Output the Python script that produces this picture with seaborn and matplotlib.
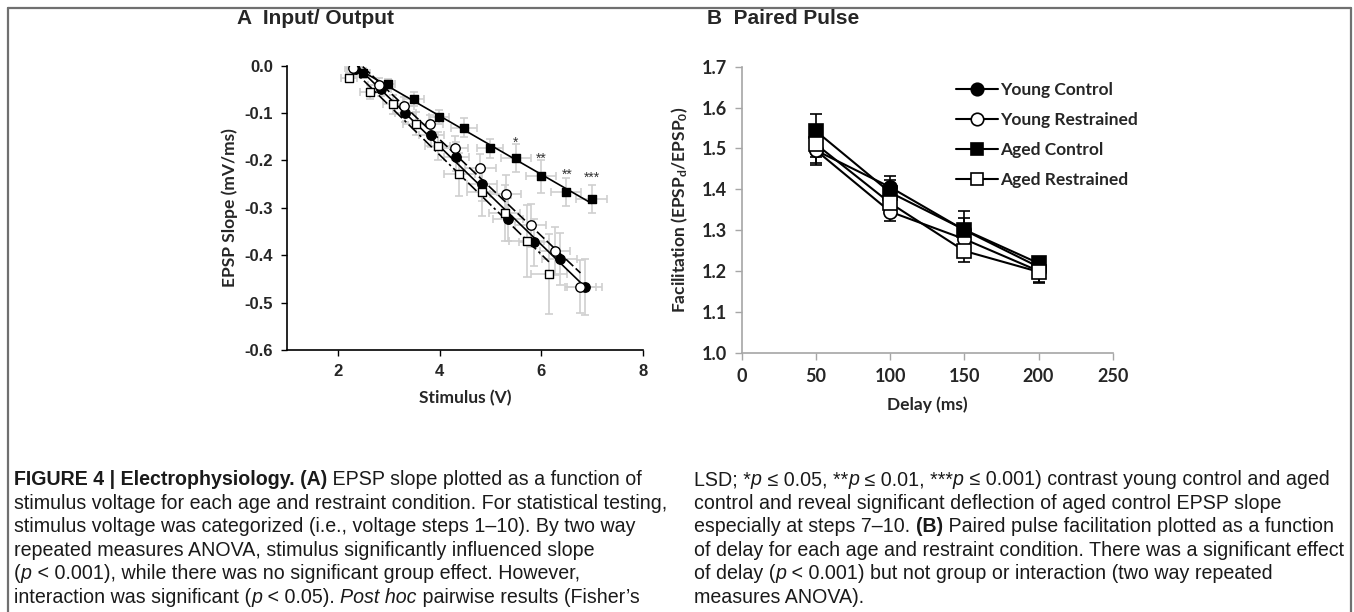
import numpy as np
import pandas as pd
import matplotlib
matplotlib.use("Agg")
import matplotlib.pyplot as plt
import seaborn as sns
from matplotlib.lines import Line2D
from matplotlib import font_manager

sns.set_style("white")

# ---- panel A: input / output (stimulus V vs EPSP slope) ----
yc_volt = [2.33, 2.85, 3.33, 3.84, 4.33, 4.83, 5.35, 5.86, 6.36, 6.85]
yc_slope = [-0.008, -0.050, -0.099, -0.147, -0.192, -0.250, -0.324, -0.373, -0.408, -0.467]
yc_xerr = [0.15, 0.2, 0.2, 0.25, 0.25, 0.3, 0.3, 0.3, 0.35, 0.35]
yc_yerr = [0.01, 0.015, 0.02, 0.025, 0.03, 0.035, 0.045, 0.05, 0.055, 0.06]

yr_volt = [2.30, 2.80, 3.30, 3.81, 4.30, 4.80, 5.30, 5.79, 6.27, 6.77]
yr_slope = [-0.005, -0.041, -0.086, -0.123, -0.173, -0.216, -0.271, -0.337, -0.391, -0.466]
yr_xerr = [0.15, 0.2, 0.2, 0.25, 0.25, 0.3, 0.3, 0.3, 0.3, 0.3]
yr_yerr = [0.01, 0.015, 0.02, 0.02, 0.025, 0.03, 0.04, 0.045, 0.05, 0.055]

ac_volt = [2.49, 2.98, 3.49, 3.99, 4.48, 4.99, 5.50, 5.99, 6.49, 6.99]
ac_slope = [-0.015, -0.039, -0.071, -0.109, -0.131, -0.174, -0.195, -0.233, -0.267, -0.281]
ac_xerr = [0.15, 0.15, 0.2, 0.2, 0.25, 0.25, 0.3, 0.3, 0.3, 0.3]
ac_yerr = [0.01, 0.01, 0.015, 0.015, 0.02, 0.02, 0.03, 0.035, 0.03, 0.03]

ar_volt = [2.22, 2.64, 3.09, 3.53, 3.96, 4.39, 4.83, 5.28, 5.71, 6.15]
ar_slope = [-0.025, -0.056, -0.081, -0.122, -0.169, -0.229, -0.267, -0.311, -0.370, -0.440]
ar_xerr = [0.15, 0.2, 0.2, 0.25, 0.25, 0.3, 0.3, 0.3, 0.35, 0.35]
ar_yerr = [0.01, 0.015, 0.02, 0.025, 0.03, 0.045, 0.05, 0.06, 0.075, 0.085]

sig_volt = [5.5, 6.0, 6.5, 7.0]
sig_slope = [-0.162, -0.197, -0.230, -0.237]
sig_marks = ["*", "**", "**", "***"]

# ---- panel B: paired pulse ----
delay = [50, 100, 150, 200]
pp_yc = [1.495, 1.405, 1.300, 1.210]
pp_yr = [1.495, 1.345, 1.278, 1.200]
pp_ac = [1.542, 1.392, 1.301, 1.219]
pp_ar = [1.510, 1.366, 1.249, 1.198]
pp_yc_err = [0.03, 0.027, 0.03, 0.02]
pp_yr_err = [0.035, 0.023, 0.03, 0.028]
pp_ac_err = [0.043, 0.03, 0.046, 0.016]
pp_ar_err = [0.03, 0.03, 0.028, 0.028]

groups = ["Young Control", "Young Restrained", "Aged Control", "Aged Restrained"]
marker_of = {"Young Control": ("o", "black"), "Young Restrained": ("o", "white"),
             "Aged Control": ("s", "black"), "Aged Restrained": ("s", "white")}

names = {f.name for f in font_manager.fontManager.ttflist}
narrow = "Liberation Sans Narrow" if "Liberation Sans Narrow" in names else "Liberation Sans"
excel = "Lato"

plt.rcParams["mathtext.fontset"] = "custom"
plt.rcParams["mathtext.rm"] = excel
plt.rcParams["mathtext.bf"] = excel + ":bold"
plt.rcParams["mathtext.it"] = excel + ":italic"

fig = plt.figure(figsize=(13.54, 6.12), dpi=100)
W, H = 1354, 612

# ---------------- panel A ----------------
axA = fig.add_axes([287 / W, 1 - 350 / H, (643 - 287) / W, (350 - 65.7) / H])
io = {
    "Young Control": (yc_volt, yc_slope, yc_xerr, yc_yerr, "-"),
    "Young Restrained": (yr_volt, yr_slope, yr_xerr, yr_yerr, (0, (6, 2))),
    "Aged Control": (ac_volt, ac_slope, ac_xerr, ac_yerr, "-"),
    "Aged Restrained": (ar_volt, ar_slope, ar_xerr, ar_yerr, (0, (7, 2, 1.5, 2))),
}
for g in groups:
    vx, vy, ex, ey, ls = io[g]
    axA.errorbar(vx, vy, xerr=ex, yerr=ey, fmt="none", ecolor="#cfcfcf",
                 elinewidth=1.2, capsize=3, capthick=1.2, zorder=1)
for g in groups:
    vx, vy, ex, ey, ls = io[g]
    sns.regplot(x=vx, y=vy, ax=axA, scatter=False, ci=None, truncate=True,
                color="black", line_kws={"lw": 1.2, "linestyle": ls, "zorder": 2})
for g in groups:
    vx, vy, ex, ey, ls = io[g]
    m, fc = marker_of[g]
    sns.scatterplot(x=vx, y=vy, ax=axA, marker=m, s=46 if m == "o" else 34,
                    facecolor=fc, edgecolor="black", linewidth=1, zorder=3)
for vx, vy, mk in zip(sig_volt, sig_slope, sig_marks):
    axA.text(vx, vy, mk, ha="center", va="center", fontsize=10, color="#333333",
             family="Liberation Sans")

axA.set_xlim(1, 8)
axA.set_ylim(-0.6, 0.0)
axA.set_xticks([2, 4, 6, 8])
axA.set_yticks([0.0, -0.1, -0.2, -0.3, -0.4, -0.5, -0.6])
axA.set_yticklabels(["0.0", "-0.1", "-0.2", "-0.3", "-0.4", "-0.5", "-0.6"])
for sp in ["top", "right"]:
    axA.spines[sp].set_visible(False)
for sp in ["left", "bottom"]:
    axA.spines[sp].set_color("black")
    axA.spines[sp].set_linewidth(1.2)
axA.tick_params(direction="out", length=4, width=1, color="black", pad=6,
                labelsize=12, left=True, bottom=True)
for lab in axA.get_xticklabels() + axA.get_yticklabels():
    lab.set_fontweight("bold")
    lab.set_family("Liberation Sans")
axA.set_xlabel("Stimulus (V)", fontsize=12.5, fontweight="bold", family=excel, labelpad=8)
axA.set_ylabel("EPSP Slope (mV/ms)", fontsize=12.5, fontweight="bold", family=excel, labelpad=5)
axA.grid(False)

# ---------------- panel B ----------------
axB = fig.add_axes([742 / W, 1 - 352.7 / H, (1112.7 - 742) / W, (352.7 - 66.7) / H])
pp = {"Young Control": (pp_yc, pp_yc_err), "Young Restrained": (pp_yr, pp_yr_err),
      "Aged Control": (pp_ac, pp_ac_err), "Aged Restrained": (pp_ar, pp_ar_err)}
for g in groups:
    vals, err = pp[g]
    axB.errorbar(delay, vals, yerr=err, fmt="none", ecolor="black", elinewidth=1.2,
                 capsize=4, capthick=1.2, zorder=1)
handles = []
for g in groups:
    vals, err = pp[g]
    m, fc = marker_of[g]
    sns.lineplot(x=delay, y=vals, ax=axB, color="black", lw=1.5, marker=m,
                 markersize=10 if m == "s" else 9.5, markerfacecolor=fc,
                 markeredgecolor="black", markeredgewidth=1.2, errorbar=None, zorder=2)
    handles.append(Line2D([], [], color="black", lw=1.5, marker=m, markersize=9,
                          markerfacecolor=fc, markeredgecolor="black",
                          markeredgewidth=1.2, label=g))
leg = axB.legend(handles=handles, loc="upper left", bbox_to_anchor=(0.535, 1.0),
                 frameon=False, handlelength=2.4, handletextpad=0.15, labelspacing=0.8,
                 prop={"family": excel, "weight": "bold", "size": 12.5})

axB.set_xlim(0, 250)
axB.set_ylim(1.0, 1.7)
axB.set_xticks([0, 50, 100, 150, 200, 250])
axB.set_yticks([1.0, 1.1, 1.2, 1.3, 1.4, 1.5, 1.6, 1.7])
axB.set_yticklabels(["1.0", "1.1", "1.2", "1.3", "1.4", "1.5", "1.6", "1.7"])
for sp in ["top", "right"]:
    axB.spines[sp].set_visible(False)
for sp in ["left", "bottom"]:
    axB.spines[sp].set_color("#a6a6a6")
    axB.spines[sp].set_linewidth(1.2)
axB.tick_params(direction="out", length=5, width=1, color="#a6a6a6", pad=6,
                labelsize=13, left=True, bottom=True)
for lab in axB.get_xticklabels() + axB.get_yticklabels():
    lab.set_fontweight("bold")
    lab.set_family(excel)
axB.set_xlabel("Delay (ms)", fontsize=12.5, fontweight="bold", family=excel, labelpad=8)
axB.set_ylabel(r"Facilitation (EPSP$_\mathbf{d}$/EPSP$_\mathbf{0}$)", fontsize=12.5,
               fontweight="bold", family=excel, labelpad=8)
axB.grid(False)

# ---------------- panel titles ----------------
fig.text(237 / W, 1 - 18 / H, "A  Input/ Output", fontsize=15, fontweight="bold",
         family=[narrow, "DejaVu Sans"], va="center", ha="left")
fig.text(707 / W, 1 - 18 / H, "B  Paired Pulse", fontsize=15, fontweight="bold",
         family=[narrow, "DejaVu Sans"], va="center", ha="left")

# ---------------- frame ----------------
fc_frame = "#707070"
fig.add_artist(Line2D([7.5 / W, 7.5 / W], [0, 1 - 7.5 / H], color=fc_frame, lw=1.6))
fig.add_artist(Line2D([7.5 / W, 1351 / W], [1 - 7.5 / H, 1 - 7.5 / H], color=fc_frame, lw=1.6))
fig.add_artist(Line2D([1351 / W, 1351 / W], [0, 1 - 7.5 / H], color=fc_frame, lw=1.6))

# ---------------- caption ----------------
renderer = fig.canvas.get_renderer()
cap_family = [narrow, "DejaVu Sans"]


def style_kw(st, size):
    kw = {"fontsize": size, "family": cap_family, "color": "#1a1a1a"}
    if st == "b":
        kw["fontweight"] = "bold"
    if st == "i":
        kw["fontstyle"] = "italic"
    return kw


def run_width(s, st, size):
    t1 = fig.text(0, 0, "x" + s + "x", **style_kw(st, size))
    t2 = fig.text(0, 0, "xx", **style_kw(st, size))
    w = t1.get_window_extent(renderer).width - t2.get_window_extent(renderer).width
    t1.remove()
    t2.remove()
    return w


left_col = [
    [("FIGURE 4 | Electrophysiology. (A)", "b"), (" EPSP slope plotted as a function of", "n")],
    [("stimulus voltage for each age and restraint condition. For statistical testing,", "n")],
    [("stimulus voltage was categorized (i.e., voltage steps 1\u201310). By two way", "n")],
    [("repeated measures ANOVA, stimulus significantly influenced slope", "n")],
    [("(", "n"), ("p", "i"), (" < 0.001), while there was no significant group effect. However,", "n")],
    [("interaction was significant (", "n"), ("p", "i"), (" < 0.05). ", "n"), ("Post hoc", "i"),
     (" pairwise results (Fisher\u2019s", "n")],
]
right_col = [
    [("LSD; *", "n"), ("p", "i"), (" \u2264 0.05, **", "n"), ("p", "i"), (" \u2264 0.01, ***", "n"),
     ("p", "i"), (" \u2264 0.001) contrast young control and aged", "n")],
    [("control and reveal significant deflection of aged control EPSP slope", "n")],
    [("especially at steps 7\u201310. ", "n"), ("(B)", "b"),
     (" Paired pulse facilitation plotted as a function", "n")],
    [("of delay for each age and restraint condition. There was a significant effect", "n")],
    [("of delay (", "n"), ("p", "i"), (" < 0.001) but not group or interaction (two way repeated", "n")],
    [("measures ANOVA).", "n")],
]

# size the caption so the long line spans the column like the reference
probe = run_width(left_col[1][0][0], "n", 10)
cap_size = 10 * 650 / probe

line_y = [485, 508.6, 532.2, 555.8, 579.4, 603]
for x0, col in [(14, left_col), (694, right_col)]:
    for runs, yb in zip(col, line_y):
        x = x0
        for s, st in runs:
            fig.text(x / W, 1 - yb / H, s, va="baseline", ha="left", **style_kw(st, cap_size))
            x += run_width(s, st, cap_size)

fig.savefig("out.png", dpi=100)
